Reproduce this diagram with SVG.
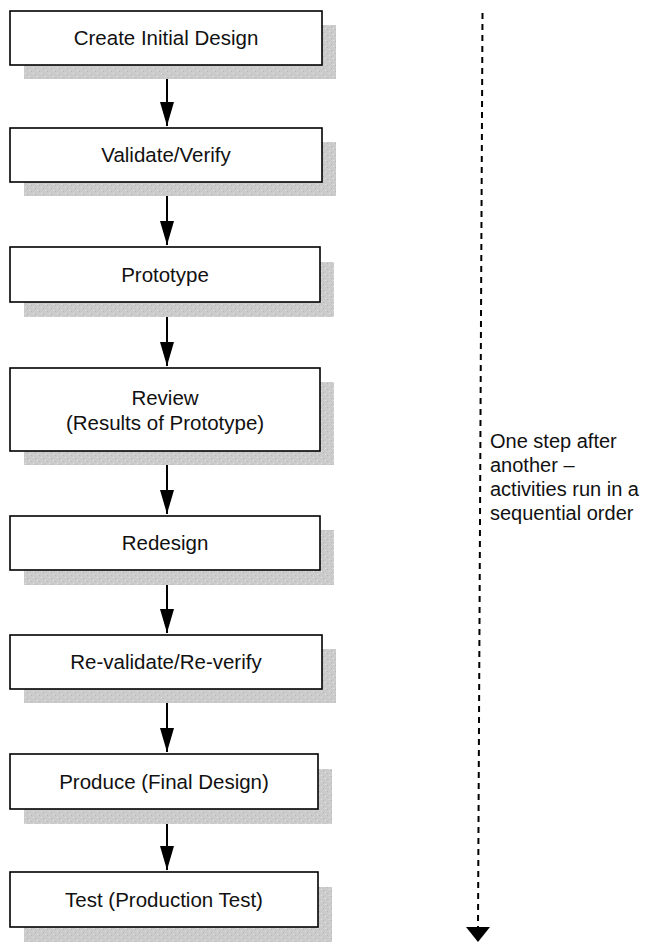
<svg xmlns="http://www.w3.org/2000/svg" width="649" height="942" viewBox="0 0 649 942">
<defs>
<pattern id="dots" width="8" height="6" patternUnits="userSpaceOnUse">
<rect width="8" height="6" fill="#cbcbcb"/>
<rect x="1" y="1" width="1" height="1" fill="#e6e6e6"/>
<rect x="5" y="4" width="1" height="1" fill="#e6e6e6"/>
<rect x="3" y="2" width="1" height="1" fill="#b4b4b4"/>
<rect x="7" y="5" width="1" height="1" fill="#b8b8b8"/>
</pattern>
<marker id="ah" viewBox="0 0 24 14" refX="24" refY="7" markerWidth="24" markerHeight="14" markerUnits="userSpaceOnUse" orient="auto">
<path d="M0,0 L24,7 L0,14 Z" fill="#000"/>
</marker>
</defs>
<style>
.sh{fill:url(#dots);}
.bx{fill:#fff;stroke:#000;stroke-width:1.6;}
.t{font-family:"Liberation Sans",Arial,sans-serif;font-size:20.5px;fill:#111;text-anchor:middle;}
.n{font-family:"Liberation Sans",Arial,sans-serif;font-size:20px;fill:#111;}
.c{stroke:#000;stroke-width:2;fill:none;}
</style>
<g id="connectors">
<line class="c" x1="167" y1="65" x2="167" y2="126" marker-end="url(#ah)"/>
<line class="c" x1="167" y1="182" x2="167" y2="245" marker-end="url(#ah)"/>
<line class="c" x1="167" y1="302" x2="167" y2="366" marker-end="url(#ah)"/>
<line class="c" x1="167" y1="451" x2="167" y2="514" marker-end="url(#ah)"/>
<line class="c" x1="167" y1="570" x2="167" y2="633" marker-end="url(#ah)"/>
<line class="c" x1="167" y1="689" x2="167" y2="752" marker-end="url(#ah)"/>
<line class="c" x1="167" y1="809" x2="167" y2="870" marker-end="url(#ah)"/>
<line x1="482.5" y1="13" x2="478" y2="927" stroke="#000" stroke-width="2" stroke-dasharray="6,5"/>
<path d="M466,927 L490,927 L478,942 Z" fill="#000"/>
</g>
<g id="n1"><rect class="sh" x="24" y="25" width="312" height="54"/><rect class="bx" x="10" y="11" width="312" height="54"/><text class="t" x="166" y="45">Create Initial Design</text></g>
<g id="n2"><rect class="sh" x="24" y="142" width="312" height="54"/><rect class="bx" x="10" y="128" width="312" height="54"/><text class="t" x="166" y="162">Validate/Verify</text></g>
<g id="n3"><rect class="sh" x="24" y="262" width="310" height="55"/><rect class="bx" x="10" y="247" width="310" height="55"/><text class="t" x="165" y="282">Prototype</text></g>
<g id="n4"><rect class="sh" x="24" y="382" width="310" height="83"/><rect class="bx" x="10" y="368" width="310" height="83"/><text class="t" x="165" y="405">Review</text><text class="t" x="165" y="430">(Results of Prototype)</text></g>
<g id="n5"><rect class="sh" x="24" y="530" width="310" height="55"/><rect class="bx" x="10" y="516" width="310" height="54"/><text class="t" x="165" y="550">Redesign</text></g>
<g id="n6"><rect class="sh" x="24" y="649" width="312" height="54"/><rect class="bx" x="10" y="635" width="312" height="54"/><text class="t" x="166" y="669">Re-validate/Re-verify</text></g>
<g id="n7"><rect class="sh" x="24" y="769" width="308" height="55"/><rect class="bx" x="10" y="754" width="308" height="55"/><text class="t" x="164" y="789">Produce (Final Design)</text></g>
<g id="n8"><rect class="sh" x="24" y="887" width="308" height="55"/><rect class="bx" x="10" y="872" width="308" height="55"/><text class="t" x="164" y="907">Test (Production Test)</text></g>
<g id="note"><text class="n" x="490" y="448">One step after</text><text class="n" x="490" y="472">another –</text><text class="n" x="490" y="496">activities run in a</text><text class="n" x="490" y="520">sequential order</text></g>
</svg>
